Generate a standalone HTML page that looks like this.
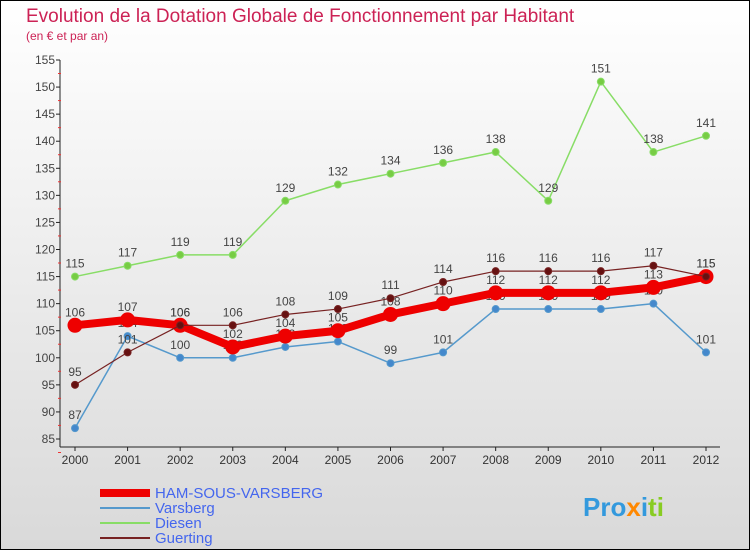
<!DOCTYPE html>
<html><head><meta charset="utf-8"><style>
body{margin:0}
#c{width:750px;height:550px;position:relative;overflow:hidden;font-family:"Liberation Sans",sans-serif}
</style></head><body>
<div id="c">
<svg width="750" height="550" xmlns="http://www.w3.org/2000/svg">
<defs><linearGradient id="bg" x1="0" y1="0" x2="0" y2="1"><stop offset="0" stop-color="#ffffff"/><stop offset="1" stop-color="#d9d9d9"/></linearGradient></defs>
<rect x="0.5" y="0.5" width="749" height="549" fill="url(#bg)" stroke="#000"/>
<text x="26" y="22" font-size="19" fill="#cc2255">Evolution de la Dotation Globale de Fonctionnement par Habitant</text>
<text x="26" y="40" font-size="12" fill="#cc2255">(en € et par an)</text>
<g id="axes"></g><g id="series"></g>
<g font-size="15" fill="#4466ee">
<line x1="100" y1="493" x2="150" y2="493" stroke="#ee0000" stroke-width="8"/>
<text x="155" y="498" fill="#4466ee">HAM-SOUS-VARSBERG</text>
<line x1="100" y1="508" x2="150" y2="508" stroke="#5599cc" stroke-width="2"/>
<text x="155" y="513" fill="#4466ee">Varsberg</text>
<line x1="100" y1="523" x2="150" y2="523" stroke="#88dd66" stroke-width="2"/>
<text x="155" y="528" fill="#4466ee">Diesen</text>
<line x1="100" y1="538" x2="150" y2="538" stroke="#772222" stroke-width="2"/>
<text x="155" y="543" fill="#4466ee">Guerting</text>
</g>
<text x="583" y="516" font-size="26" font-weight="bold"><tspan fill="#3399dd">Pro</tspan><tspan fill="#ff8800">x</tspan><tspan fill="#3399dd">i</tspan><tspan fill="#88cc22">ti</tspan></text>
</svg>
</div>
<script>
const years=[2000,2001,2002,2003,2004,2005,2006,2007,2008,2009,2010,2011,2012];
const yTicks=[85,90,95,100,105,110,115,120,125,130,135,140,145,150,155];
const ham=[106,107,106,102,104,105,108,110,112,112,112,113,115];
const varsberg=[87,104,100,100,102,103,99,101,109,109,109,110,101];
const diesen=[115,117,119,119,129,132,134,136,138,129,151,138,141];
const guerting=[95,101,106,106,108,109,111,114,116,116,116,117,115];
const NS="http://www.w3.org/2000/svg";
const x=i=>75+i*(706-75)/12;
const y=v=>439-(v-85)*(439-60)/70;
function mk(t,a,p){const e=document.createElementNS(NS,t);for(const k in a)e.setAttribute(k,a[k]);p.appendChild(e);return e;}
const ax=document.getElementById('axes');
const yl=mk('line',{x1:60,y1:60,x2:60,y2:447,stroke:'#222'},ax);


const xl=mk('line',{x1:60,y1:447,x2:720,y2:447,stroke:'#222'},ax);


yTicks.forEach(v=>{
 mk('line',{x1:56,x2:60,y1:y(v),y2:y(v),stroke:'#222'},ax);
 mk('line',{x1:58,x2:61,y1:y(v)+13.5,y2:y(v)+13.5,stroke:'#e33'},ax);
 const t=mk('text',{x:55,y:y(v)+4,'font-size':12,'text-anchor':'end',fill:'#444'},ax);t.textContent=v;
 
 
});
years.forEach((yr,i)=>{
 mk('line',{x1:x(i),x2:x(i),y1:447,y2:451,stroke:'#222'},ax);
 const t=mk('text',{x:x(i),y:464,'font-size':12,'text-anchor':'middle',fill:'#333'},ax);t.textContent=yr;
 
 
});
const sg=document.getElementById('series');
function series(d,col,w,r,name,fillc){
 const g=mk('g',{},sg);
 
 
 const pl=mk('polyline',{points:d.map((v,i)=>x(i)+','+y(v)).join(' '),fill:'none',stroke:col,'stroke-width':w,'stroke-linejoin':'round'},g);
 
 
 d.forEach((v,i)=>{
  const c=mk('circle',{cx:x(i),cy:y(v),r:r,fill:fillc,stroke:col,'stroke-width':1},g);
  
  
  const t=mk('text',{x:x(i),y:y(v)-9,'font-size':12,'text-anchor':'middle',fill:'#444'},g);t.textContent=v;
  
  
 });
}
series(diesen,'#88dd66',1.5,3.5,'diesen','#77cc44');
series(varsberg,'#5599cc',1.5,3.5,'varsberg','#4488cc');
series(ham,'#ee0000',8,7,'ham','#ee0000');
series(guerting,'#772222',1.2,3.5,'guerting','#661111');
</script>
</body></html>
